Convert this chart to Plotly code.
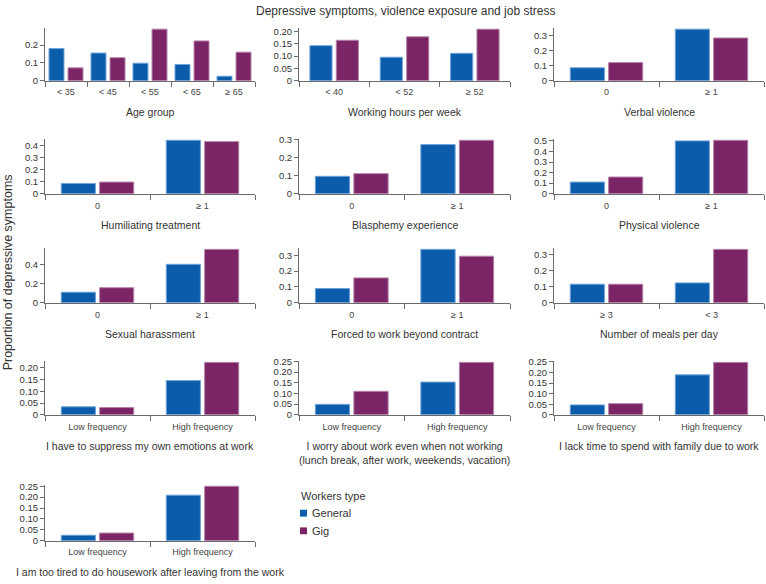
import plotly.graph_objects as go

W, H = 766, 584

# ---------------- data ----------------
age_cats = ["< 35", "< 45", "< 55", "< 65", "≥ 65"]
age_general = [0.180, 0.155, 0.098, 0.091, 0.025]
age_gig = [0.072, 0.129, 0.289, 0.223, 0.160]

hours_cats = ["< 40", "< 52", "≥ 52"]
hours_general = [0.142, 0.095, 0.111]
hours_gig = [0.164, 0.178, 0.209]

exposure_cats = ["0", "≥ 1"]
verbal_general = [0.086, 0.344]
verbal_gig = [0.121, 0.285]
humil_general = [0.084, 0.442]
humil_gig = [0.096, 0.431]
blasph_general = [0.097, 0.274]
blasph_gig = [0.112, 0.298]
physical_general = [0.110, 0.500]
physical_gig = [0.158, 0.506]
sexual_general = [0.110, 0.400]
sexual_gig = [0.157, 0.555]
forced_general = [0.090, 0.337]
forced_gig = [0.157, 0.294]

meals_cats = ["≥ 3", "< 3"]
meals_general = [0.115, 0.123]
meals_gig = [0.115, 0.330]

freq_cats = ["Low frequency", "High frequency"]
suppress_general = [0.034, 0.145]
suppress_gig = [0.031, 0.222]
worry_general = [0.049, 0.153]
worry_gig = [0.110, 0.245]
family_general = [0.047, 0.189]
family_gig = [0.053, 0.248]
tired_general = [0.025, 0.209]
tired_gig = [0.035, 0.250]

panel_titles = [
    "Age group", "Working hours per week", "Verbal violence",
    "Humiliating treatment", "Blasphemy experience", "Physical violence",
    "Sexual harassment", "Forced to work beyond contract", "Number of meals per day",
    "I have to suppress my own emotions at work",
    "I worry about work even when not working<br>(lunch break, after work, weekends, vacation)",
    "I lack time to spend with family due to work",
    "I am too tired to do housework after leaving from the work",
]
panel_cats = [age_cats, hours_cats, exposure_cats, exposure_cats, exposure_cats,
              exposure_cats, exposure_cats, exposure_cats, meals_cats,
              freq_cats, freq_cats, freq_cats, freq_cats]
panel_general = [age_general, hours_general, verbal_general, humil_general,
                 blasph_general, physical_general, sexual_general, forced_general,
                 meals_general, suppress_general, worry_general, family_general,
                 tired_general]
panel_gig = [age_gig, hours_gig, verbal_gig, humil_gig, blasph_gig, physical_gig,
             sexual_gig, forced_gig, meals_gig, suppress_gig, worry_gig,
             family_gig, tired_gig]
# y tick step and decimals per panel
tick_steps = [0.1, 0.05, 0.1, 0.1, 0.1, 0.1, 0.2, 0.1, 0.1, 0.05, 0.05, 0.05, 0.05]
tick_decs = [1, 2, 1, 1, 1, 1, 1, 1, 1, 2, 2, 2, 2]

series_names = ["General", "Gig"]
legend_title = "Workers type"
main_title = "Depressive symptoms, violence exposure and job stress"
y_title = "Proportion of depressive symptoms"

# ---------------- styles ----------------
C_GEN = "#0b5cab"
C_GIG = "#7b2566"
L_GEN = "#6fa3d8"
L_GIG = "#b684ab"
AXC = "#6b6b6b"
TXT = "#333333"
FONT = "Liberation Sans, Arial, sans-serif"

col_px = [(45, 255), (299, 510), (554, 764)]
row_px = [(23, 77), (136, 192), (247, 303), (362, 417), (488, 545)]


def px_x(p):
    return p / W


def px_y(p):
    return 1 - p / H


fig = go.Figure()
layout = dict(
    width=W, height=H, margin=dict(l=0, r=0, t=0, b=0),
    paper_bgcolor="white", plot_bgcolor="white",
    showlegend=False, barmode="overlay",
    font=dict(family=FONT, color=TXT),
)
annotations = []
shapes = []

for i in range(13):
    r, c = divmod(i, 3)
    n = i + 1
    xa = "x" if n == 1 else f"x{n}"
    ya = "y" if n == 1 else f"y{n}"
    cats = panel_cats[i]
    ncat = len(cats)
    if ncat == 5:
        width, off_g, off_p = 0.357, -0.405, 0.048
    elif ncat == 3:
        width, off_g, off_p = 0.315, -0.345, 0.030
    else:
        width, off_g, off_p = 0.325, -0.345, 0.020
    fig.add_trace(go.Bar(x=cats, y=panel_general[i], name=series_names[0],
                         xaxis=xa, yaxis=ya, width=width, offset=off_g,
                         marker=dict(color=C_GEN, line=dict(color=L_GEN, width=1))))
    fig.add_trace(go.Bar(x=cats, y=panel_gig[i], name=series_names[1],
                         xaxis=xa, yaxis=ya, width=width, offset=off_p,
                         marker=dict(color=C_GIG, line=dict(color=L_GIG, width=1))))
    x0, x1 = col_px[c]
    yt, yb = row_px[r]
    ymax = max(max(panel_general[i]), max(panel_gig[i])) * 1.03
    step = tick_steps[i]
    k = 0
    tv, tt = [], []
    while k * step <= ymax + 1e-9:
        v = round(k * step, 4)
        tv.append(v)
        tt.append("0" if k == 0 else f"{v:.{tick_decs[i]}f}")
        k += 1
    xkey = "xaxis" if n == 1 else f"xaxis{n}"
    ykey = "yaxis" if n == 1 else f"yaxis{n}"
    layout[xkey] = dict(
        domain=[px_x(x0), px_x(x1)], anchor=ya, type="category",
        range=[-0.5, ncat - 0.5], showline=True, linecolor=AXC, linewidth=1,
        ticks="outside", ticklen=5, tickcolor=AXC, tickson="boundaries",
        showgrid=False, zeroline=False, fixedrange=True,
        tickfont=dict(family=FONT, size=9, color="#444444"),
        ticklabelstandoff=3,
    )
    layout[ykey] = dict(
        domain=[px_y(yb), px_y(yt)], anchor=xa, range=[0, ymax],
        showline=True, linecolor=AXC, linewidth=1, ticks="outside", ticklen=4,
        tickcolor=AXC, tickvals=tv, ticktext=tt, showgrid=False, zeroline=False,
        tickfont=dict(family=FONT, size=9.5, color=TXT),
    )
    annotations.append(dict(
        text=panel_titles[i], xref="paper", yref="paper",
        x=px_x((x0 + x1) / 2), y=px_y(yb + 24), xanchor="center", yanchor="top",
        showarrow=False, font=dict(family=FONT, size=10.5, color=TXT),
    ))

annotations.append(dict(text=main_title, xref="paper", yref="paper",
                        x=px_x(405), y=px_y(6), xanchor="center", yanchor="middle",
                        showarrow=False, font=dict(family=FONT, size=12, color=TXT)))
annotations.append(dict(text=y_title, xref="paper", yref="paper", textangle=-90,
                        x=px_x(8), y=px_y(272), xanchor="center", yanchor="middle",
                        showarrow=False, font=dict(family=FONT, size=12.5, color=TXT)))
# legend
annotations.append(dict(text=legend_title, xref="paper", yref="paper",
                        x=px_x(299), y=px_y(500), xanchor="left", yanchor="middle",
                        showarrow=False, font=dict(family=FONT, size=11, color=TXT)))
for j, (nm, col) in enumerate(zip(series_names, [C_GEN, C_GIG])):
    cy = 517 + 18 * j
    shapes.append(dict(type="rect", xref="paper", yref="paper",
                       x0=px_x(300), x1=px_x(307), y0=px_y(cy + 3.5), y1=px_y(cy - 3.5),
                       fillcolor=col, line=dict(width=0)))
    annotations.append(dict(text=nm, xref="paper", yref="paper",
                            x=px_x(310), y=px_y(cy), xanchor="left", yanchor="middle",
                            showarrow=False, font=dict(family=FONT, size=11, color=TXT)))

layout["annotations"] = annotations
layout["shapes"] = shapes
fig.update_layout(**layout)
fig.write_html("out.html")
